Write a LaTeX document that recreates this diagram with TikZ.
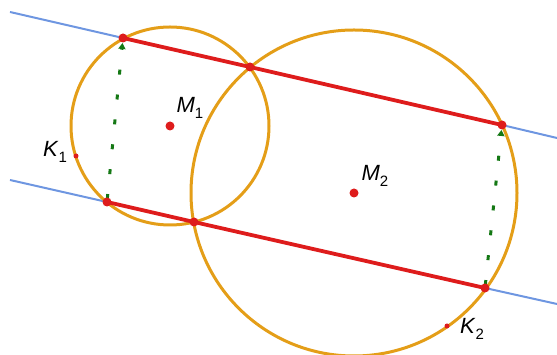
\documentclass[tikz,border=0pt]{standalone}
\usepackage{fontspec}
\setmainfont{Liberation Sans}
\usetikzlibrary{arrows.meta}
\definecolor{circcol}{RGB}{228,158,24}
\definecolor{segcol}{RGB}{222,28,28}
\definecolor{linecol}{RGB}{110,150,225}
\definecolor{turncol}{RGB}{20,120,20}
\newcommand{\ptname}[2]{\textit{#1}\raisebox{-0.28em}{\fontsize{15}{15}\selectfont #2}}

\begin{document}
\begin{tikzpicture}[x=1pt,y=1pt,
  circ/.style={draw=circcol,line width=3pt},
  seg/.style={draw=segcol,line width=3.8pt},
  parline/.style={draw=linecol,line width=2pt},
  turn/.style={draw=turncol,line width=3pt,dash pattern=on 5pt off 20pt,dash phase=22pt,
    shorten >=5pt,-{Triangle[length=6pt,width=7pt]}},
  pt/.style={circle,fill=segcol,inner sep=0pt,minimum size=9pt},
  smallpt/.style={circle,fill=segcol,inner sep=0pt,minimum size=5pt},
  lbl/.style={inner sep=0pt,font=\fontsize{22}{24}\selectfont}
]
\useasboundingbox (0,0) rectangle (557,355);
% centres and points on the circles
\coordinate (M1) at (170,229);
\coordinate (M2) at (354,162);
\coordinate (A1) at (123,317);
\coordinate (P)  at (250,288);
\coordinate (A2) at (502,230);
\coordinate (B1) at (107,153);
\coordinate (Q)  at (194,133);
\coordinate (B2) at (485,67);
\coordinate (K1) at (76,199);
\coordinate (K2) at (447,29);
% ends of the two parallels
\coordinate (tl) at (10,343);
\coordinate (tr) at (557,217);
\coordinate (bl) at (10,175);
\coordinate (br) at (557,51);

\draw[parline] (tl) -- (A1);
\draw[parline] (A2) -- (tr);
\draw[parline] (bl) -- (B1);
\draw[parline] (B2) -- (br);

\draw[circ] (M1) circle (99pt);
\draw[circ] (M2) circle (163pt);

\draw[seg] (A1) -- (P) -- (A2);
\draw[seg] (B1) -- (Q) -- (B2);

\draw[turn] (B1) -- (A1);
\draw[turn] (B2) -- (A2);

\foreach \p in {M1,M2,A1,P,A2,B1,Q,B2}
  \node[pt] (n\p) at (\p) {};
\foreach \p in {K1,K2}
  \node[smallpt] (n\p) at (\p) {};

\node[lbl] (lM1) at (190,247) {\ptname{M}{1}};
\node[lbl] (lM2) at (375,179) {\ptname{M}{2}};
\node[lbl] (lK1) at (55,203) {\ptname{K}{1}};
\node[lbl] (lK2) at (472,26) {\ptname{K}{2}};
\end{tikzpicture}
\end{document}
